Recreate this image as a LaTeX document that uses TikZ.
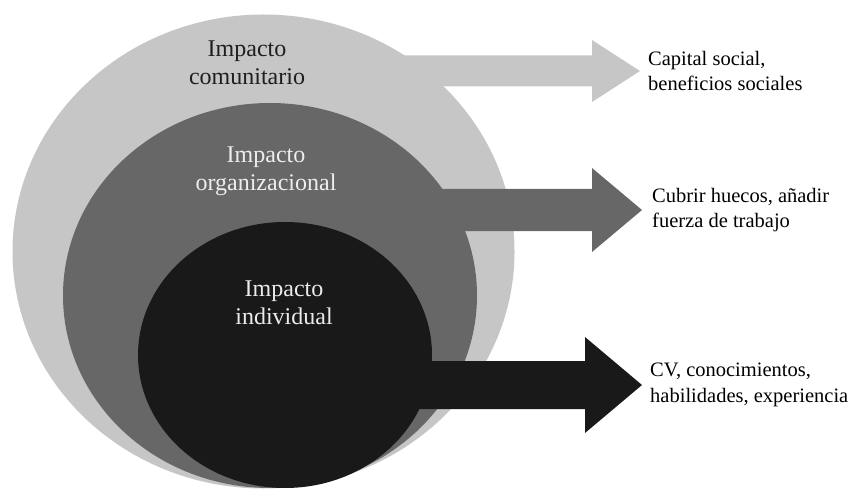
\documentclass[tikz,border=0pt]{standalone}
\usepackage{fontspec}
\setmainfont{Liberation Serif}
\usepackage{tikz}
\usetikzlibrary{positioning, shapes.geometric}
\definecolor{ringlight}{HTML}{C6C6C6}
\definecolor{ringmid}{HTML}{676767}
\definecolor{ringdark}{HTML}{191919}
\tikzset{
        ring/.style={ellipse, inner sep=0pt, draw=none, fill=#1},
        ring label/.style={align=center, font=\fontsize{24}{28}\selectfont},
        out label/.style={align=left, inner sep=0pt, font=\fontsize{20.5}{25.5}\selectfont},
    }
% block arrow: style, tip, head length, head half height, shaft half height, shaft length
\newcommand{\blockarrow}[6]{%
  \fill[#1] (#2) -- ++(-#3,-#4) -- ++(0,#4-#5) -- ++(-#6,0) -- ++(0,2*#5)
    -- ++(#6,0) -- ++(0,#4-#5) -- cycle;}
\begin{document}
\begin{tikzpicture}[x=1pt, y=-1pt, node distance=8pt]
    \useasboundingbox (0,0) rectangle (856,489);
    \coordinate (tipcom) at (640,71);
    \coordinate (tiporg) at (642,210);
    \coordinate (tipind) at (642,385);
    \node [ring=ringlight, minimum width=502pt, minimum height=474pt] (com) at (263.5,251.5) {};
    \blockarrow{ringlight}{tipcom}{48}{31}{15.5}{212}
    \node [ring=ringmid, minimum width=414pt, minimum height=385pt] (org) at (270,295.5) {};
    \blockarrow{ringmid}{tiporg}{50}{42}{21}{250}
    \node [ring=ringdark, minimum width=294pt, minimum height=266pt] (ind) at (285,355) {};
    \blockarrow{ringdark}{tipind}{57}{48}{24}{200}
    \node [ring label, text=black!88] (lcom) at (247,63) {Impacto\\comunitario};
    \node [ring label, text=white!93!black] (lorg) at (266,171) {Impacto\\organizacional};
    \node [ring label, text=white!92!black] (lind) at (284,303) {Impacto\\individual};
    \node [out label, right=of tipcom] (outcom) {Capital social,\\beneficios sociales};
    \node [out label, right=10pt of tiporg] (outorg) {Cubrir huecos, añadir\\fuerza de trabajo};
    \node [out label, right=of tipind] (outind) {CV, conocimientos,\\habilidades, experiencia};
\end{tikzpicture}
\end{document}
